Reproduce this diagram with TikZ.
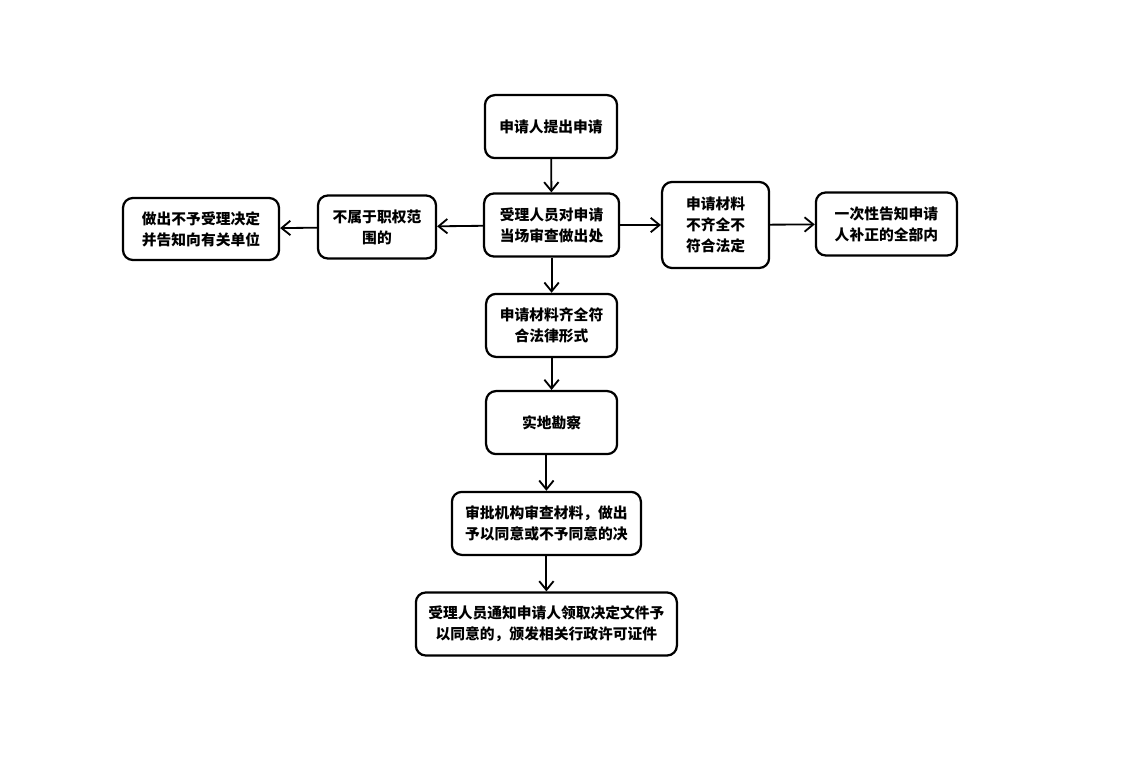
\documentclass[tikz,border=0pt]{standalone}
\usepackage{fontspec}
\newfontfamily\cjk{Noto Sans CJK SC}
\usepackage{tikz}
\usetikzlibrary{arrows.meta}

\begin{document}
\begin{tikzpicture}[
    every node/.style={font=\cjk\bfseries\fontsize{10.5}{15}\selectfont},
    arr/.style={draw, line width=1.3pt, -{Straight Barb[length=2.2mm,width=3.6mm,line width=1.3pt]}}
]
\tikzstyle{box} = [draw, line width=1.6pt, rounded corners=7pt, align=center, minimum height=1.575cm, inner sep=2pt]
\useasboundingbox (0,0) rectangle (28.075,19.475);

% main column
\node[box, minimum width=3.3cm] (apply) at (13.775,16.31) {申请人提出申请};
\node[box, minimum width=3.375cm] (review) at (13.79,13.85) {受理人员对申请\\当场审查做出处};
\node[box, minimum width=3.275cm] (complete) at (13.79,11.34) {申请材料齐全符\\合法律形式};
\node[box, minimum width=3.275cm] (survey) at (13.79,8.91) {实地勘察};
\node[box, minimum width=4.725cm] (decide) at (13.66,6.39) {审批机构审查材料，做出\\予以同意或不予同意的决};
\node[box, minimum width=6.525cm] (notify) at (13.66,3.875) {受理人员通知申请人领取决定文件予\\以同意的，颁发相关行政许可证件};

% left branch
\node[box, minimum width=2.95cm] (outside) at (9.425,13.8) {不属于职权范\\围的};
\node[box, minimum width=3.9cm, minimum height=1.55cm] (reject) at (5.025,13.75) {做出不予受理决定\\并告知向有关单位};

% right branch
\node[box, minimum width=2.675cm, minimum height=2.15cm] (lacking) at (17.89,13.85) {申请材料\\不齐全不\\符合法定};
\node[box, minimum width=3.525cm] (inform) at (22.16,13.875) {一次性告知申请\\人补正的全部内};

% connect boxes
\draw[arr] (apply) -- (review);
\draw[arr] (review) -- (outside);
\draw[arr] (outside) -- (reject);
\draw[arr] (review) -- (lacking);
\draw[arr] (lacking) -- (inform);
\draw[arr] (review) -- (complete);
\draw[arr] (complete) -- (survey);
\draw[arr] (decide.north |- survey.south) -- (decide.north);
\draw[arr] (decide) -- (notify);
\end{tikzpicture}
\end{document}
